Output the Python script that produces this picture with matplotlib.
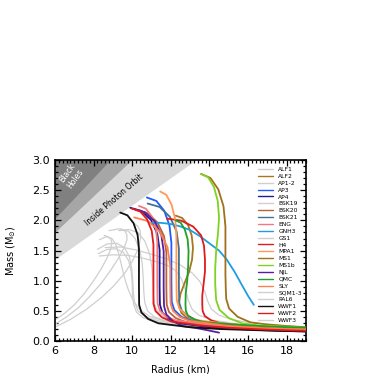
import matplotlib
matplotlib.use("Agg")
import matplotlib.pyplot as plt
from matplotlib.ticker import MultipleLocator, FormatStrFormatter
import numpy as np

# ---------------- data ----------------
# Shaded limits: M = R / k  (km per solar mass)
bh_k = 2.95        # black holes
buch_k = 3.32      # intermediate band
photon_k = 4.43    # inside photon orbit
r_range = [6.0, 19.0]

gray = "#cfcfcf"

ALF1_R = [8.25, 8.7, 9.15, 9.55, 9.82, 9.95, 10.0, 10.02, 10.08, 10.22, 10.55, 11.1, 12.0, 13.5, 15.5, 17.5, 19.0]
ALF1_M = [1.45, 1.52, 1.53, 1.47, 1.33, 1.15, 0.95, 0.75, 0.60, 0.48, 0.39, 0.33, 0.28, 0.23, 0.20, 0.18, 0.17]

ALF2_R = [12.25, 12.59, 12.89, 13.08, 13.15, 13.1, 12.95, 12.7, 12.5, 12.43, 12.43, 12.55, 12.9, 13.42, 14.03, 15.5, 17.5, 19.0]
ALF2_M = [2.08, 2.04, 1.925, 1.753, 1.55, 1.35, 1.15, 0.95, 0.78, 0.65, 0.58, 0.465, 0.368, 0.303, 0.28, 0.25, 0.22, 0.20]

AP1_R = [8.3, 8.65, 8.95, 9.15, 9.3, 9.45, 9.6, 9.8, 10.05, 10.4, 10.9, 11.6, 12.5, 14.0, 16.0, 19.0]
AP1_M = [1.68, 1.73, 1.70, 1.60, 1.45, 1.25, 1.05, 0.85, 0.67, 0.52, 0.41, 0.34, 0.29, 0.24, 0.20, 0.17]
AP2_R = [8.2, 8.7, 9.2, 9.6, 9.85, 9.98, 10.03, 10.06, 10.12, 10.3, 10.7, 11.3, 12.3, 14.0, 16.0, 19.0]
AP2_M = [1.52, 1.61, 1.62, 1.55, 1.40, 1.20, 1.00, 0.80, 0.64, 0.50, 0.40, 0.34, 0.28, 0.23, 0.20, 0.18]

AP3_R = [10.76, 11.25, 11.66, 11.93, 12.03, 12.03, 12.03, 12.04, 12.05, 12.18, 12.55, 13.1, 13.75, 15.0, 17.0, 19.0]
AP3_M = [2.38, 2.323, 2.16, 1.917, 1.63, 1.30, 1.00, 0.78, 0.65, 0.516, 0.403, 0.327, 0.30, 0.25, 0.21, 0.18]

AP4_R = [9.9, 10.48, 10.98, 11.3, 11.42, 11.42, 11.42, 11.43, 11.44, 11.56, 11.91, 12.43, 13.04, 14.0, 15.5, 17.5, 19.0]
AP4_M = [2.21, 2.157, 2.005, 1.778, 1.51, 1.20, 0.90, 0.70, 0.60, 0.474, 0.367, 0.295, 0.27, 0.23, 0.20, 0.17, 0.16]

BSK19_R = [8.8, 9.3, 9.8, 10.15, 10.4, 10.52, 10.57, 10.6, 10.65, 10.8, 11.15, 11.8, 12.8, 14.3, 16.5, 19.0]
BSK19_M = [1.83, 1.86, 1.82, 1.70, 1.50, 1.28, 1.05, 0.82, 0.64, 0.50, 0.40, 0.33, 0.28, 0.23, 0.20, 0.18]

BSK20_R = [10.2, 10.8, 11.31, 11.65, 11.77, 11.77, 11.77, 11.78, 11.79, 11.91, 12.26, 12.78, 13.39, 14.5, 16.5, 19.0]
BSK20_M = [2.17, 2.117, 1.965, 1.738, 1.47, 1.20, 0.90, 0.70, 0.60, 0.481, 0.381, 0.314, 0.29, 0.25, 0.21, 0.19]

BSK21_R = [10.8, 11.42, 11.95, 12.3, 12.42, 12.42, 12.42, 12.43, 12.44, 12.57, 12.94, 13.49, 14.14, 15.5, 17.5, 19.0]
BSK21_M = [2.28, 2.223, 2.06, 1.817, 1.53, 1.20, 0.90, 0.75, 0.63, 0.504, 0.397, 0.325, 0.30, 0.25, 0.22, 0.20]

ENG_R = [10.35, 10.71, 11.02, 11.23, 11.3, 11.3, 11.3, 11.31, 11.32, 11.43, 11.76, 12.25, 12.82, 14.0, 16.0, 19.0]
ENG_M = [2.24, 2.194, 2.064, 1.87, 1.64, 1.30, 1.00, 0.75, 0.62, 0.505, 0.408, 0.343, 0.32, 0.27, 0.22, 0.18]

GNH3_R = [11.0, 11.5, 12.0, 12.5, 13.0, 13.5, 14.0, 14.5, 14.9, 15.3, 15.7, 16.0, 16.3]
GNH3_M = [1.96, 1.96, 1.94, 1.90, 1.84, 1.74, 1.62, 1.50, 1.35, 1.15, 0.92, 0.75, 0.60]

GS1_R = [8.3, 9.0, 9.8, 10.5, 11.2, 11.8, 12.25, 12.55, 12.75, 12.9, 13.1, 13.45, 14.1, 15.3, 17.0, 19.0]
GS1_M = [1.41, 1.43, 1.42, 1.38, 1.32, 1.26, 1.17, 1.03, 0.86, 0.68, 0.53, 0.43, 0.35, 0.29, 0.24, 0.21]

H4_R = [11.8, 12.54, 13.16, 13.57, 13.72, 13.77, 13.77, 13.7, 13.63, 13.63, 13.65, 13.76, 14.09, 14.57, 15.15, 16.5, 17.8, 19.0]
H4_M = [2.03, 1.996, 1.898, 1.752, 1.58, 1.35, 1.15, 0.95, 0.75, 0.60, 0.50, 0.416, 0.344, 0.297, 0.28, 0.24, 0.22, 0.20]

MPA1_R = [11.45, 11.77, 12.04, 12.23, 12.29, 12.29, 12.29, 12.3, 12.31, 12.44, 12.81, 13.36, 14.01, 15.5, 17.5, 19.0]
MPA1_M = [2.48, 2.423, 2.26, 2.017, 1.73, 1.40, 1.10, 0.82, 0.68, 0.542, 0.425, 0.347, 0.32, 0.27, 0.23, 0.21]

MS1_R = [13.57, 14.05, 14.46, 14.73, 14.83, 14.83, 14.83, 14.85, 14.87, 15.02, 15.46, 16.11, 16.87, 18.0, 19.0]
MS1_M = [2.77, 2.704, 2.515, 2.233, 1.90, 1.50, 1.10, 0.85, 0.70, 0.539, 0.403, 0.312, 0.28, 0.25, 0.23]

MS1b_R = [13.57, 13.93, 14.23, 14.43, 14.5, 14.45, 14.35, 14.3, 14.3, 14.33, 14.35, 14.52, 15.0, 15.71, 16.55, 17.8, 19.0]
MS1b_M = [2.77, 2.715, 2.559, 2.326, 2.05, 1.80, 1.50, 1.20, 0.95, 0.78, 0.68, 0.519, 0.383, 0.292, 0.26, 0.24, 0.22]

NJL_R = [10.05, 10.655, 11.167, 11.51, 11.63, 11.63, 11.63, 11.64, 11.65, 11.77, 12.12, 12.64, 13.25, 13.9, 14.5]
NJL_M = [2.19, 2.137, 1.985, 1.758, 1.49, 1.20, 0.90, 0.70, 0.58, 0.442, 0.325, 0.247, 0.22, 0.18, 0.14]

QMC_R = [12.25, 12.51, 12.72, 12.87, 12.92, 12.9, 12.85, 12.77, 12.76, 12.78, 12.89, 13.22, 13.7, 14.28, 15.5, 17.2, 19.0]
QMC_M = [2.00, 1.962, 1.853, 1.69, 1.50, 1.25, 1.00, 0.78, 0.60, 0.50, 0.423, 0.359, 0.315, 0.30, 0.27, 0.24, 0.22]

SLY_R = [10.1, 10.82, 11.42, 11.83, 11.97, 11.97, 11.98, 11.99, 12.11, 12.46, 12.98, 13.59, 15.0, 17.0, 19.0]
SLY_M = [2.05, 1.989, 1.816, 1.556, 1.25, 1.00, 0.75, 0.62, 0.501, 0.401, 0.334, 0.31, 0.25, 0.21, 0.19]

SQM1_R = [6.0, 6.5, 7.0, 7.5, 8.0, 8.4, 8.7, 8.88, 8.95, 8.9, 8.75, 8.55]
SQM1_M = [0.35, 0.46, 0.60, 0.78, 1.00, 1.20, 1.38, 1.52, 1.62, 1.69, 1.73, 1.75]
SQM2_R = [6.0, 6.6, 7.2, 7.8, 8.4, 8.9, 9.3, 9.6, 9.73, 9.72, 9.6, 9.4]
SQM2_M = [0.28, 0.40, 0.55, 0.74, 0.96, 1.18, 1.38, 1.56, 1.68, 1.77, 1.83, 1.86]
SQM3_R = [6.0, 6.8, 7.6, 8.4, 9.0, 9.6, 10.0, 10.3, 10.43, 10.42, 10.3, 10.1]
SQM3_M = [0.23, 0.36, 0.52, 0.72, 0.90, 1.12, 1.32, 1.52, 1.70, 1.82, 1.90, 1.95]

PAL6_R = [8.6, 9.4, 10.2, 11.0, 11.8, 12.5, 13.1, 13.5, 13.75, 13.9, 14.1, 14.5, 15.1, 16.0, 17.5, 19.0]
PAL6_M = [1.55, 1.56, 1.51, 1.44, 1.36, 1.26, 1.13, 0.99, 0.83, 0.67, 0.53, 0.43, 0.36, 0.31, 0.26, 0.23]

WWF1_R = [9.38, 9.75, 10.07, 10.28, 10.35, 10.35, 10.35, 10.36, 10.48, 10.83, 11.35, 11.96, 13.0, 14.5, 16.5, 19.0]
WWF1_M = [2.13, 2.085, 1.955, 1.76, 1.53, 1.20, 0.90, 0.60, 0.474, 0.367, 0.295, 0.27, 0.23, 0.20, 0.18, 0.16]

WWF2_R = [9.95, 10.39, 10.76, 11.01, 11.1, 11.1, 11.1, 11.1, 11.1, 11.21, 11.54, 12.03, 12.6, 13.5, 15.0, 17.0, 19.0]
WWF2_M = [2.20, 2.154, 2.024, 1.83, 1.60, 1.30, 1.00, 0.75, 0.62, 0.497, 0.394, 0.324, 0.30, 0.26, 0.22, 0.19, 0.17]

WWF3_R = [9.3, 9.8, 10.3, 10.65, 10.9, 11.02, 11.07, 11.09, 11.14, 11.3, 11.65, 12.3, 13.2, 14.8, 16.8, 19.0]
WWF3_M = [1.83, 1.85, 1.80, 1.66, 1.45, 1.22, 1.00, 0.80, 0.63, 0.50, 0.40, 0.33, 0.28, 0.23, 0.19, 0.17]

legend_labels = ["ALF1", "ALF2", "AP1-2", "AP3", "AP4", "BSK19", "BSK20", "BSK21",
                 "ENG", "GNH3", "GS1", "H4", "MPA1", "MS1", "MS1b", "NJL", "QMC",
                 "SLY", "SQM1-3", "PAL6", "WWF1", "WWF2", "WWF3"]

curves = {
    "ALF1": (gray, [(ALF1_R, ALF1_M)]),
    "ALF2": ("#a8761e", [(ALF2_R, ALF2_M)]),
    "AP1-2": (gray, [(AP1_R, AP1_M), (AP2_R, AP2_M)]),
    "AP3": ("#1f5cff", [(AP3_R, AP3_M)]),
    "AP4": ("#1a1a9a", [(AP4_R, AP4_M)]),
    "BSK19": (gray, [(BSK19_R, BSK19_M)]),
    "BSK20": ("#b5653a", [(BSK20_R, BSK20_M)]),
    "BSK21": ("#3f7390", [(BSK21_R, BSK21_M)]),
    "ENG": ("#f47a7a", [(ENG_R, ENG_M)]),
    "GNH3": ("#1e9de0", [(GNH3_R, GNH3_M)]),
    "GS1": (gray, [(GS1_R, GS1_M)]),
    "H4": ("#e0191c", [(H4_R, H4_M)]),
    "MPA1": ("#ff9955", [(MPA1_R, MPA1_M)]),
    "MS1": ("#a0701a", [(MS1_R, MS1_M)]),
    "MS1b": ("#7ed321", [(MS1b_R, MS1b_M)]),
    "NJL": ("#5a1e9e", [(NJL_R, NJL_M)]),
    "QMC": ("#1fa02a", [(QMC_R, QMC_M)]),
    "SLY": ("#ff8050", [(SLY_R, SLY_M)]),
    "SQM1-3": (gray, [(SQM1_R, SQM1_M), (SQM2_R, SQM2_M), (SQM3_R, SQM3_M)]),
    "PAL6": (gray, [(PAL6_R, PAL6_M)]),
    "WWF1": ("#111111", [(WWF1_R, WWF1_M)]),
    "WWF2": ("#e31a1c", [(WWF2_R, WWF2_M)]),
    "WWF3": (gray, [(WWF3_R, WWF3_M)]),
}

# ---------------- figure ----------------
fig = plt.figure(figsize=(3.74, 3.74), dpi=100)
ax = fig.add_axes([0.147, 0.088, 0.671, 0.484])

r = np.linspace(r_range[0], r_range[1], 200)
ax.fill_between(r, r / photon_k, 3.2, color="#d9d9d9", lw=0, zorder=0)
ax.fill_between(r, r / buch_k, 3.2, color="#a6a6a6", lw=0, zorder=0)
ax.fill_between(r, r / bh_k, 3.2, color="#808080", lw=0, zorder=0)

ax.text(6.85, 2.74, "Black\nHoles", color="white", fontsize=5.6, rotation=55,
        ha="center", va="center", linespacing=1.0, zorder=1)
ax.text(9.05, 2.34, "Inside Photon Orbit", color="black", fontsize=5.5, rotation=41,
        ha="center", va="center", zorder=1)

handles = {}
order_gray = [k for k in legend_labels if curves[k][0] == gray]
order_col = [k for k in legend_labels if curves[k][0] != gray]
for name in order_gray + order_col:
    color, segs = curves[name]
    lw = 0.9 if color == gray else 1.3
    for i, (R, M) in enumerate(segs):
        ln, = ax.plot(R, M, color=color, lw=lw, solid_capstyle="round",
                      solid_joinstyle="round", zorder=2 if color == gray else 3)
        if i == 0:
            handles[name] = ln

leg = ax.legend([handles[k] for k in legend_labels], legend_labels,
                loc="upper right", bbox_to_anchor=(1.0, 0.985), frameon=False,
                fontsize=4.3, handlelength=2.6, handletextpad=0.8,
                labelspacing=0.28, borderaxespad=0.3)
for lh in leg.get_lines():
    lh.set_linewidth(1.0)

ax.set_xlim(6, 19)
ax.set_ylim(0, 3.0)
ax.xaxis.set_major_locator(MultipleLocator(2))
ax.xaxis.set_minor_locator(MultipleLocator(0.2))
ax.yaxis.set_major_locator(MultipleLocator(0.5))
ax.yaxis.set_minor_locator(MultipleLocator(0.1))
ax.tick_params(which="both", direction="in", top=True, right=True, labelsize=8,
               width=0.9)
ax.tick_params(which="major", length=4)
ax.tick_params(which="minor", length=2)
ax.yaxis.set_major_formatter(FormatStrFormatter("%.1f"))
for s in ax.spines.values():
    s.set_linewidth(1.2)

ax.set_xlabel("Radius (km)", fontsize=7, labelpad=6)
ax.set_ylabel(r"Mass (M$_{\odot}$)", fontsize=7, labelpad=10)

fig.savefig("out.png", dpi=100)
